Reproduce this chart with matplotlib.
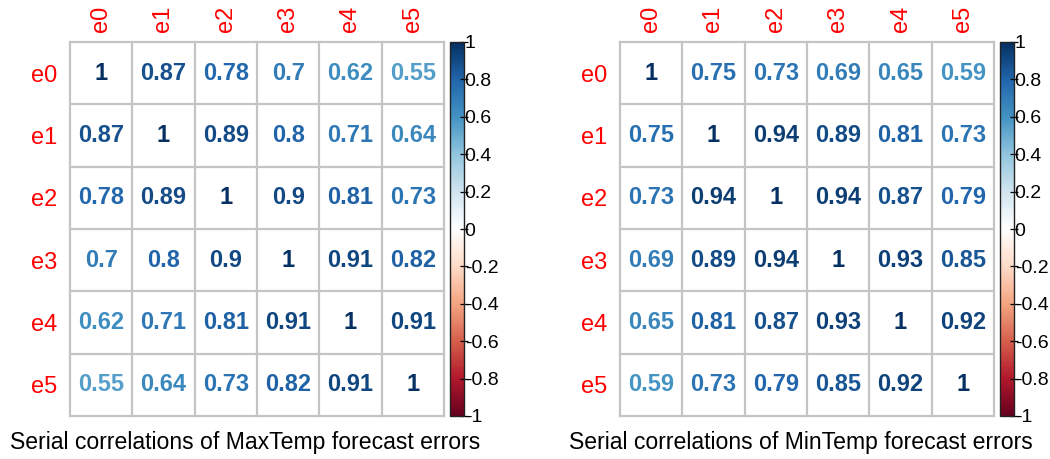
import numpy as np
import matplotlib
matplotlib.use("Agg")
import matplotlib.pyplot as plt
from matplotlib.colors import LinearSegmentedColormap, Normalize
from matplotlib.cm import ScalarMappable

plt.rcParams['font.family'] = ['Liberation Sans', 'DejaVu Sans']

labels = ["e0", "e1", "e2", "e3", "e4", "e5"]

max_temp_corr = [
    [1.00, 0.87, 0.78, 0.70, 0.62, 0.55],
    [0.87, 1.00, 0.89, 0.80, 0.71, 0.64],
    [0.78, 0.89, 1.00, 0.90, 0.81, 0.73],
    [0.70, 0.80, 0.90, 1.00, 0.91, 0.82],
    [0.62, 0.71, 0.81, 0.91, 1.00, 0.91],
    [0.55, 0.64, 0.73, 0.82, 0.91, 1.00],
]

min_temp_corr = [
    [1.00, 0.75, 0.73, 0.69, 0.65, 0.59],
    [0.75, 1.00, 0.94, 0.89, 0.81, 0.73],
    [0.73, 0.94, 1.00, 0.94, 0.87, 0.79],
    [0.69, 0.89, 0.94, 1.00, 0.93, 0.85],
    [0.65, 0.81, 0.87, 0.93, 1.00, 0.92],
    [0.59, 0.73, 0.79, 0.85, 0.92, 1.00],
]

titles = ["Serial correlations of MaxTemp forecast errors",
          "Serial correlations of MinTemp forecast errors"]

cbar_ticks = [1, 0.8, 0.6, 0.4, 0.2, 0, -0.2, -0.4, -0.6, -0.8, -1]

rdbu = ["#67001F", "#B2182B", "#D6604D", "#F4A582", "#FDDBC7", "#FFFFFF",
        "#D1E5F0", "#92C5DE", "#4393C3", "#2166AC", "#053061"]
cmap = LinearSegmentedColormap.from_list("rdbu", rdbu, N=200)
norm = Normalize(-1, 1)

W, H = 1050, 459
fig = plt.figure(figsize=(W / 100, H / 100), dpi=100)


def px_axes(x0, y0, x1, y1):
    return fig.add_axes([x0 / W, 1 - y1 / H, (x1 - x0) / W, (y1 - y0) / H])


def fmt(v):
    return f"{v:.2f}".rstrip("0").rstrip(".")


grid_color = "#C4C4C4"
panels = [
    (max_temp_corr, (70, 42, 444, 416), (450, 42, 464, 416), 245, titles[0]),
    (min_temp_corr, (620, 42, 994, 416), (1000, 42, 1014, 416), 801, titles[1]),
]

for corr, gbox, cbox, tx, title in panels:
    c = np.array(corr)
    n = c.shape[0]
    ax = px_axes(*gbox)
    ax.set_xlim(0, n)
    ax.set_ylim(n, 0)
    ax.set_facecolor("white")
    for k in range(n + 1):
        ax.plot([k, k], [0, n], color=grid_color, lw=1.6, solid_capstyle="projecting",
                clip_on=False, zorder=1)
        ax.plot([0, n], [k, k], color=grid_color, lw=1.6, solid_capstyle="projecting",
                clip_on=False, zorder=1)
    for i in range(n):
        for j in range(n):
            v = c[i, j]
            ax.text(j + 0.5, i + 0.5, fmt(v), ha="center", va="center",
                    fontsize=17, fontweight="bold", color=cmap(norm(v)), zorder=2)
    for s in ax.spines.values():
        s.set_visible(False)
    ax.set_xticks(np.arange(n) + 0.5)
    ax.set_yticks(np.arange(n) + 0.5)
    ax.xaxis.tick_top()
    ax.set_xticklabels(labels, rotation=90, color="red", fontsize=17)
    ax.set_yticklabels(labels, color="red", fontsize=17)
    ax.tick_params(axis="x", length=0, pad=7)
    ax.tick_params(axis="y", length=0, pad=9)

    cax = px_axes(*cbox)
    cb = fig.colorbar(ScalarMappable(norm=norm, cmap=cmap), cax=cax)
    cb.outline.set_linewidth(1.0)
    cb.outline.set_edgecolor("#222222")
    cb.set_ticks(cbar_ticks)
    cb.set_ticklabels([fmt(t) for t in cbar_ticks])
    cax.tick_params(axis="y", direction="inout", length=6, width=0.9,
                    pad=-2.5, labelsize=14, colors="black")

    fig.text(tx / W, 1 - 442 / H, title, ha="center", va="center", fontsize=16.6)

fig.savefig("out.png", dpi=100, facecolor="white")
